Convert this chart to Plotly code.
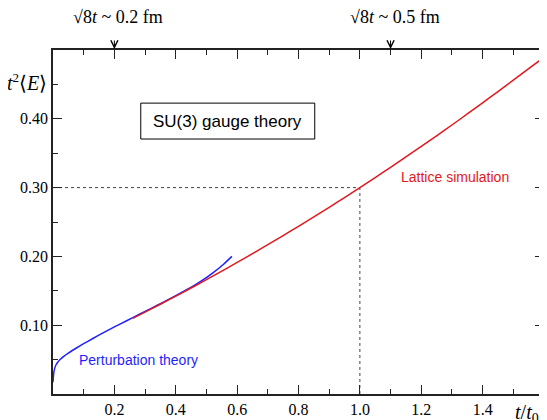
import plotly.graph_objects as go

# Lattice simulation (red)
lat_x = [0.26, 0.30, 0.35, 0.40, 0.45, 0.50, 0.55, 0.60, 0.65, 0.70, 0.75, 0.80,
         0.85, 0.90, 0.95, 1.00, 1.05, 1.10, 1.15, 1.20, 1.25, 1.30, 1.35, 1.40,
         1.45, 1.50, 1.55, 1.60]
lat_y = [0.110, 0.1190, 0.1305, 0.1422, 0.1541, 0.1662, 0.1786, 0.1912, 0.2040, 0.2170,
         0.2303, 0.2438, 0.2575, 0.2714, 0.2856, 0.3000, 0.3146, 0.3294, 0.3445, 0.3598,
         0.3753, 0.3910, 0.4070, 0.4232, 0.4396, 0.4562, 0.4728, 0.4895]

# Perturbation theory (blue)
pt_x = [0.000, 0.001, 0.003, 0.006, 0.010, 0.016, 0.024, 0.035, 0.050, 0.075, 0.100, 0.130,
        0.160, 0.200, 0.240, 0.280, 0.320, 0.360, 0.400, 0.440, 0.480, 0.520, 0.555, 0.583]
pt_y = [0.017, 0.024, 0.032, 0.038, 0.0425, 0.0465, 0.0505, 0.0548, 0.0595, 0.0665, 0.0731,
        0.0807, 0.0880, 0.0975, 0.1065, 0.1155, 0.1245, 0.1336, 0.1428, 0.1526, 0.1633,
        0.1757, 0.1883, 0.2000]

x_ticks = [0.2, 0.4, 0.6, 0.8, 1.0, 1.2, 1.4]
x_ticktext = ["0.2", "0.4", "0.6", "0.8", "1.0", "1.2", "1.4"]
y_ticks = [0.1, 0.2, 0.3, 0.4]
y_ticktext = ["0.10", "0.20", "0.30", "0.40"]

ref_x = 1.0
ref_y = 0.30
markers = [(0.2, "0.2"), (1.1, "0.5")]

RED = "#e3171e"
BLUE = "#1f1fff"
SERIF = "Liberation Serif"
SANS = "Liberation Sans"

fig = go.Figure()
fig.add_trace(go.Scatter(x=[0, ref_x], y=[ref_y, ref_y], mode="lines",
                         line=dict(color="#444", width=1, dash="dot"), hoverinfo="skip"))
fig.add_trace(go.Scatter(x=[ref_x, ref_x], y=[0, ref_y], mode="lines",
                         line=dict(color="#444", width=1, dash="dot"), hoverinfo="skip"))
fig.add_trace(go.Scatter(x=pt_x, y=pt_y, mode="lines", line=dict(color=BLUE, width=1.5),
                         line_shape="spline", line_smoothing=0.6))
fig.add_trace(go.Scatter(x=lat_x, y=lat_y, mode="lines", line=dict(color=RED, width=1.5),
                         line_shape="spline", line_smoothing=0.6))

axis_common = dict(showgrid=False, zeroline=False, showline=True, linecolor="#222",
                   linewidth=1.5, mirror="ticks", ticks="inside", tickcolor="#222",
                   tickwidth=1.2, ticklen=9,
                   tickfont=dict(family=SERIF, size=16, color="black"))

fig.update_xaxes(range=[0, 1.6], tickvals=x_ticks, ticktext=x_ticktext,
                 minor=dict(dtick=0.1, tick0=0, ticklen=5, ticks="inside", tickcolor="#222",
                            tickwidth=1.2),
                 **axis_common)
fig.update_yaxes(range=[0, 0.5], tickvals=y_ticks, ticktext=y_ticktext,
                 minor=dict(dtick=0.05, tick0=0, ticklen=5, ticks="inside", tickcolor="#222",
                            tickwidth=1.2),
                 **axis_common)

fig.add_shape(type="rect", x0=0.286, x1=0.853, y0=0.3706, y1=0.4228,
              line=dict(color="black", width=1), fillcolor="white", layer="above")

annots = [
    dict(x=0.5695, y=0.3967, xref="x", yref="y", text="SU(3) gauge theory",
         showarrow=False, font=dict(family=SANS, size=17, color="black")),
    dict(x=1.311, y=0.316, xref="x", yref="y", text="Lattice simulation",
         showarrow=False, font=dict(family=SANS, size=14, color=RED)),
    dict(x=0.2775, y=0.049, xref="x", yref="y", text="Perturbation theory",
         showarrow=False, font=dict(family=SANS, size=14, color=BLUE)),
    dict(x=0, y=0.4536, xref="paper", yref="y", xanchor="right", yanchor="middle",
         xshift=-4, showarrow=False,
         text="<i>t</i><sup><span style='font-size:13px'>2</span></sup>⟨<i>E</i>⟩",
         font=dict(family=SERIF, size=20, color="black")),
    dict(x=1.4986, y=0, xref="x", yref="paper", xanchor="left", yanchor="middle",
         yshift=-19, showarrow=False,
         text="<i>t</i>/<i>t</i><sub>0</sub>", font=dict(family=SERIF, size=20, color="black")),
]
for mx, lab in markers:
    annots.append(dict(x=mx, y=1, xref="x", yref="paper", xanchor="center", yanchor="bottom",
                       xshift=4, yshift=21, showarrow=False,
                       text="√<span style='text-decoration:overline'>8<i>t</i></span> ~ " + lab + " fm",
                       font=dict(family=SERIF, size=18, color="black")))
    annots.append(dict(x=mx, y=1, xref="x", yref="paper", text="", showarrow=True,
                       ax=0, ay=-11, arrowhead=5, arrowsize=1.4, arrowwidth=1,
                       arrowcolor="black", standoff=1))

# the page body has an 8px margin, so the figure is 8px smaller and margins shifted
fig.update_layout(width=539, height=412, margin=dict(l=45, r=1, t=42, b=26),
                  paper_bgcolor="white", plot_bgcolor="white", showlegend=False,
                  annotations=annots)

fig.write_html("out.html")
